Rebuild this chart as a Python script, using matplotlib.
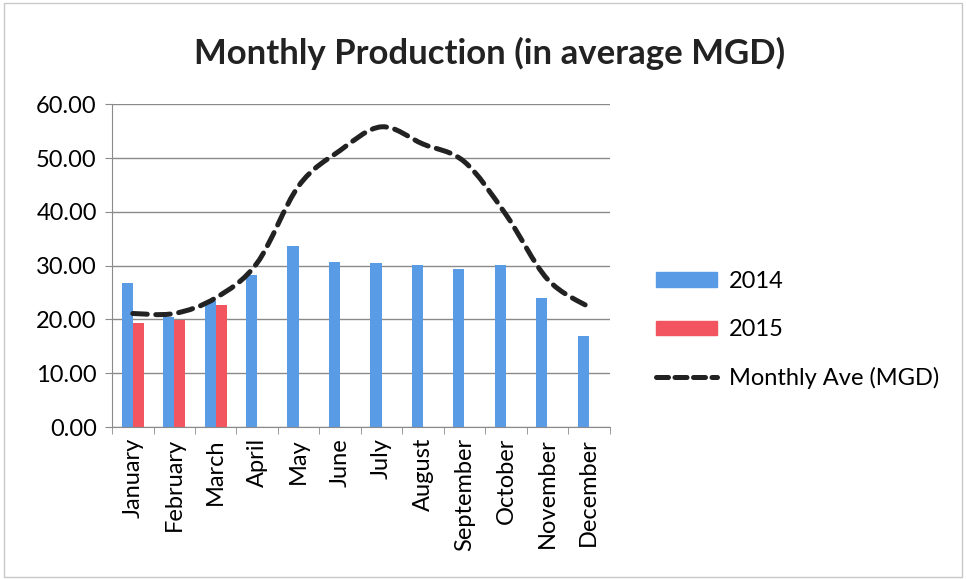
import numpy as np
import matplotlib
matplotlib.use("Agg")
from matplotlib import pyplot as plt
from matplotlib.path import Path
from matplotlib.patches import PathPatch, Rectangle
from matplotlib.lines import Line2D

months = ['January', 'February', 'March', 'April', 'May', 'June', 'July',
          'August', 'September', 'October', 'November', 'December']
prod_2014 = [26.7, 20.5, 23.4, 28.3, 33.7, 30.6, 30.4, 30.1, 29.3, 30.1, 23.9, 17.0]
prod_2015 = [19.4, 19.8, 22.6, None, None, None, None, None, None, None, None, None]
monthly_ave = [21.1, 21.1, 24.0, 30.5, 44.8, 51.4, 55.8, 52.6, 49.3, 39.5, 27.5, 22.3]

blue = '#5A9BE6'
red = '#F2555F'
font = ['Lato', 'DejaVu Sans']
plt.rcParams['font.family'] = font

fig = plt.figure(figsize=(9.66, 5.79), dpi=100)
fig.patches.append(Rectangle((0.004, 0.004), 0.992, 0.99, transform=fig.transFigure,
                             fill=False, edgecolor='#c8c8c8', linewidth=1))
ax = fig.add_axes([0.116, 0.2625, 0.515, 0.5575])

x = np.arange(len(months))
w = 0.27
ax.bar(x - w / 2, prod_2014, width=w, color=blue, zorder=2)
vals15 = [np.nan if v is None else v for v in prod_2015]
ax.bar(x + w / 2, vals15, width=w, color=red, zorder=2)

# smooth line like excel (catmull-rom -> bezier)
pts = np.column_stack([x, monthly_ave]).astype(float)
verts = [tuple(pts[0])]
codes = [Path.MOVETO]
for i in range(len(pts) - 1):
    p0 = pts[i - 1] if i > 0 else pts[i]
    p1 = pts[i]
    p2 = pts[i + 1]
    p3 = pts[i + 2] if i + 2 < len(pts) else pts[i + 1]
    c1 = p1 + (p2 - p0) / 6
    c2 = p2 - (p3 - p1) / 6
    verts += [tuple(c1), tuple(c2), tuple(p2)]
    codes += [Path.CURVE4] * 3
dash = (0, (2.9, 1.7))
ax.add_patch(PathPatch(Path(verts, codes), fill=False, edgecolor='#222222',
                       linewidth=3.6, linestyle=dash, capstyle='round', zorder=3))

ax.set_xlim(-0.5, 11.5)
ax.set_ylim(0, 60)
ax.set_yticks(np.arange(0, 61, 10))
ax.set_yticklabels([f'{v:.2f}' for v in np.arange(0, 61, 10)], fontsize=17)
ax.grid(axis='y', color='#8a8a8a', linewidth=1, zorder=0)
ax.set_xticks(x)
ax.set_xticklabels(months, rotation=90, fontsize=17)
ax.set_xticks(np.arange(-0.5, 12, 1), minor=True)
ax.tick_params(axis='x', which='major', length=0, pad=8)
ax.tick_params(axis='x', which='minor', length=5, color='#8a8a8a')
ax.tick_params(axis='y', length=5, color='#8a8a8a', pad=6)
for s in ['top', 'right']:
    ax.spines[s].set_visible(False)
for s in ['left', 'bottom']:
    ax.spines[s].set_color('#8a8a8a')

fig.text(0.507, 0.908, 'Monthly Production (in average MGD)', ha='center', va='center',
         fontsize=25, fontweight='bold', color='#222222')

handles = [Rectangle((0, 0), 1, 1, color=blue), Rectangle((0, 0), 1, 1, color=red),
           Line2D([], [], color='#222222', linewidth=3.6, linestyle=(0, (2.4, 1.3)),
                  dash_capstyle='round')]
fig.legend(handles, ['2014', '2015', 'Monthly Ave (MGD)'], loc='center left',
           bbox_to_anchor=(0.657, 0.43), frameon=False, fontsize=17,
           handlelength=2.6, handleheight=0.55, labelspacing=1.15, handletextpad=0.5)

fig.savefig('out.png', dpi=100)
